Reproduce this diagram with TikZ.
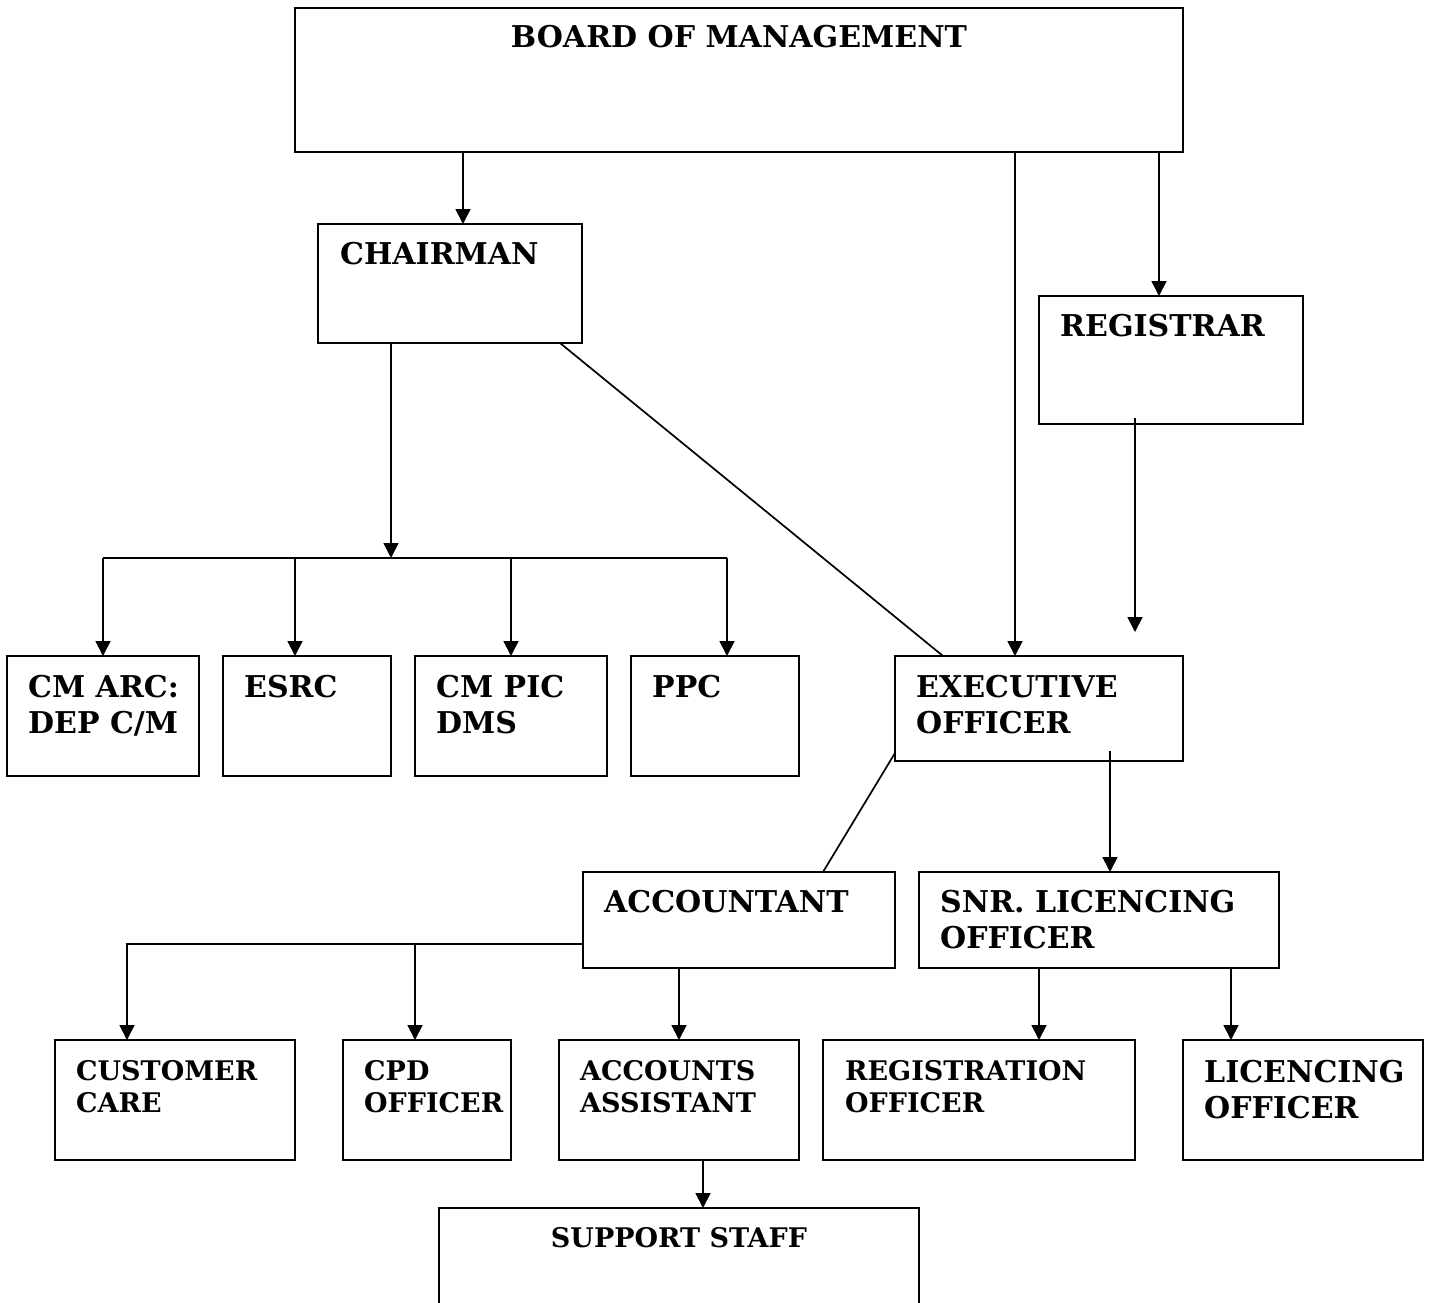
\documentclass[tikz,border=0pt]{standalone}
\usepackage{fontspec}
\setmainfont{DejaVu Serif}
\usetikzlibrary{arrows.meta}
\newcommand\obox[5]{\node[box,minimum width=#4pt,minimum height=#5pt] (#1) at (#2,#3) {};}
\begin{document}
\begin{tikzpicture}[x=1pt,y=-1pt,
  box/.style={draw,line width=1.9pt,anchor=north west,inner sep=0pt,outer sep=0pt},
  lbl/.style={anchor=base west,inner sep=0pt,align=left,font=\bfseries\fontsize{30}{36}\selectfont},
  lbls/.style={lbl,font=\bfseries\fontsize{27}{32}\selectfont},
  lblc/.style={anchor=base,inner sep=0pt,font=\bfseries\fontsize{30}{36}\selectfont},
  lblcs/.style={lblc,font=\bfseries\fontsize{27}{32}\selectfont},
  con/.style={line width=1.7pt},
  arr/.style={con,-{Triangle[length=15pt,width=15pt]}}]
\clip (0,0) rectangle (1429,1303);
% boxes
\obox{board}{295}{8}{888}{144}
\obox{chair}{318}{224}{264}{119}
\obox{reg}{1039}{296}{264}{128}
\obox{cmarc}{7}{656}{192}{120}
\obox{esrc}{223}{656}{168}{120}
\obox{cmpic}{415}{656}{192}{120}
\obox{ppc}{631}{656}{168}{120}
\obox{exec}{895}{656}{288}{105}
\obox{acc}{583}{872}{312}{96}
\obox{snr}{919}{872}{360}{96}
\obox{cust}{55}{1040}{240}{120}
\obox{cpd}{343}{1040}{168}{120}
\obox{accass}{559}{1040}{240}{120}
\obox{regoff}{823}{1040}{312}{120}
\obox{licoff}{1183}{1040}{240}{120}
\obox{support}{439}{1208}{480}{120}
% labels (base of last line)
\node[lblc] (tboard) at (739,48) {BOARD OF MANAGEMENT};
\node[lbl] (tchair) at (340,264) {CHAIRMAN};
\node[lbl] (treg) at (1060,336) {REGISTRAR};
\node[lbl] (tcmarc) at (28,733) {CM ARC:\\DEP C/M};
\node[lbl] (tesrc) at (244,697) {ESRC};
\node[lbl] (tcmpic) at (436,733) {CM PIC\\DMS};
\node[lbl] (tppc) at (652,697) {PPC};
\node[lbl] (texec) at (916,733) {EXECUTIVE\\OFFICER};
\node[lbl] (tacc) at (604,912) {ACCOUNTANT};
\node[lbl] (tsnr) at (940,948) {SNR. LICENCING\\OFFICER};
\node[lbls] (tcust) at (76,1112) {CUSTOMER\\CARE};
\node[lbls] (tcpd) at (364,1112) {CPD\\OFFICER};
\node[lbls] (taccass) at (580,1112) {ACCOUNTS\\ASSISTANT};
\node[lbls] (tregoff) at (845,1112) {REGISTRATION\\OFFICER};
\node[lbl] (tlicoff) at (1204,1118) {LICENCING\\OFFICER};
\node[lblcs] (tsupport) at (679,1247) {SUPPORT STAFF};
% helper coordinates
\coordinate (xa) at (463,0);
\coordinate (xb) at (1015,0);
\coordinate (xc) at (1159,0);
\coordinate (xd) at (391,0);
\coordinate (bus) at (391,558);
\coordinate (busl) at (103,558);
\coordinate (busr) at (727,558);
\coordinate (x1) at (295,0);
\coordinate (x2) at (511,0);
\coordinate (regstart) at (1135,418);
\coordinate (regend) at (1135,632);
\coordinate (d1) at (560,0);
\coordinate (d2) at (943,0);
\coordinate (d3) at (0,753);
\coordinate (d4) at (823,0);
\coordinate (exstart) at (1110,751);
\coordinate (abus) at (0,944);
\coordinate (xf) at (127,0);
\coordinate (xg) at (415,0);
\coordinate (xh) at (679,0);
\coordinate (xi) at (1039,0);
\coordinate (xj) at (1231,0);
\coordinate (xk) at (703,0);
% connectors
\draw[arr] (board.south -| xa) -- (chair.north -| xa);
\draw[arr] (board.south -| xb) -- (exec.north -| xb);
\draw[arr] (board.south -| xc) -- (reg.north -| xc);
\draw[arr] (regstart) -- (regend);
\draw[arr] (chair.south -| xd) -- (bus);
\draw[con] (busl) -- (busr);
\draw[arr] (busl) -- (cmarc.north -| busl);
\draw[arr] (busl -| x1) -- (esrc.north -| x1);
\draw[arr] (busl -| x2) -- (cmpic.north -| x2);
\draw[arr] (busr) -- (ppc.north -| busr);
\draw[con] (chair.south -| d1) -- (exec.north -| d2);
\draw[con] (exec.west |- d3) -- (acc.north -| d4);
\draw[arr] (exstart) -- (snr.north -| exstart);
\draw[arr] (acc.west |- abus) -| (cust.north -| xf);
\draw[arr] (abus -| xg) -- (cpd.north -| xg);
\draw[arr] (acc.south -| xh) -- (accass.north -| xh);
\draw[arr] (snr.south -| xi) -- (regoff.north -| xi);
\draw[arr] (snr.south -| xj) -- (licoff.north -| xj);
\draw[arr] (accass.south -| xk) -- (support.north -| xk);
\end{tikzpicture}
\end{document}
